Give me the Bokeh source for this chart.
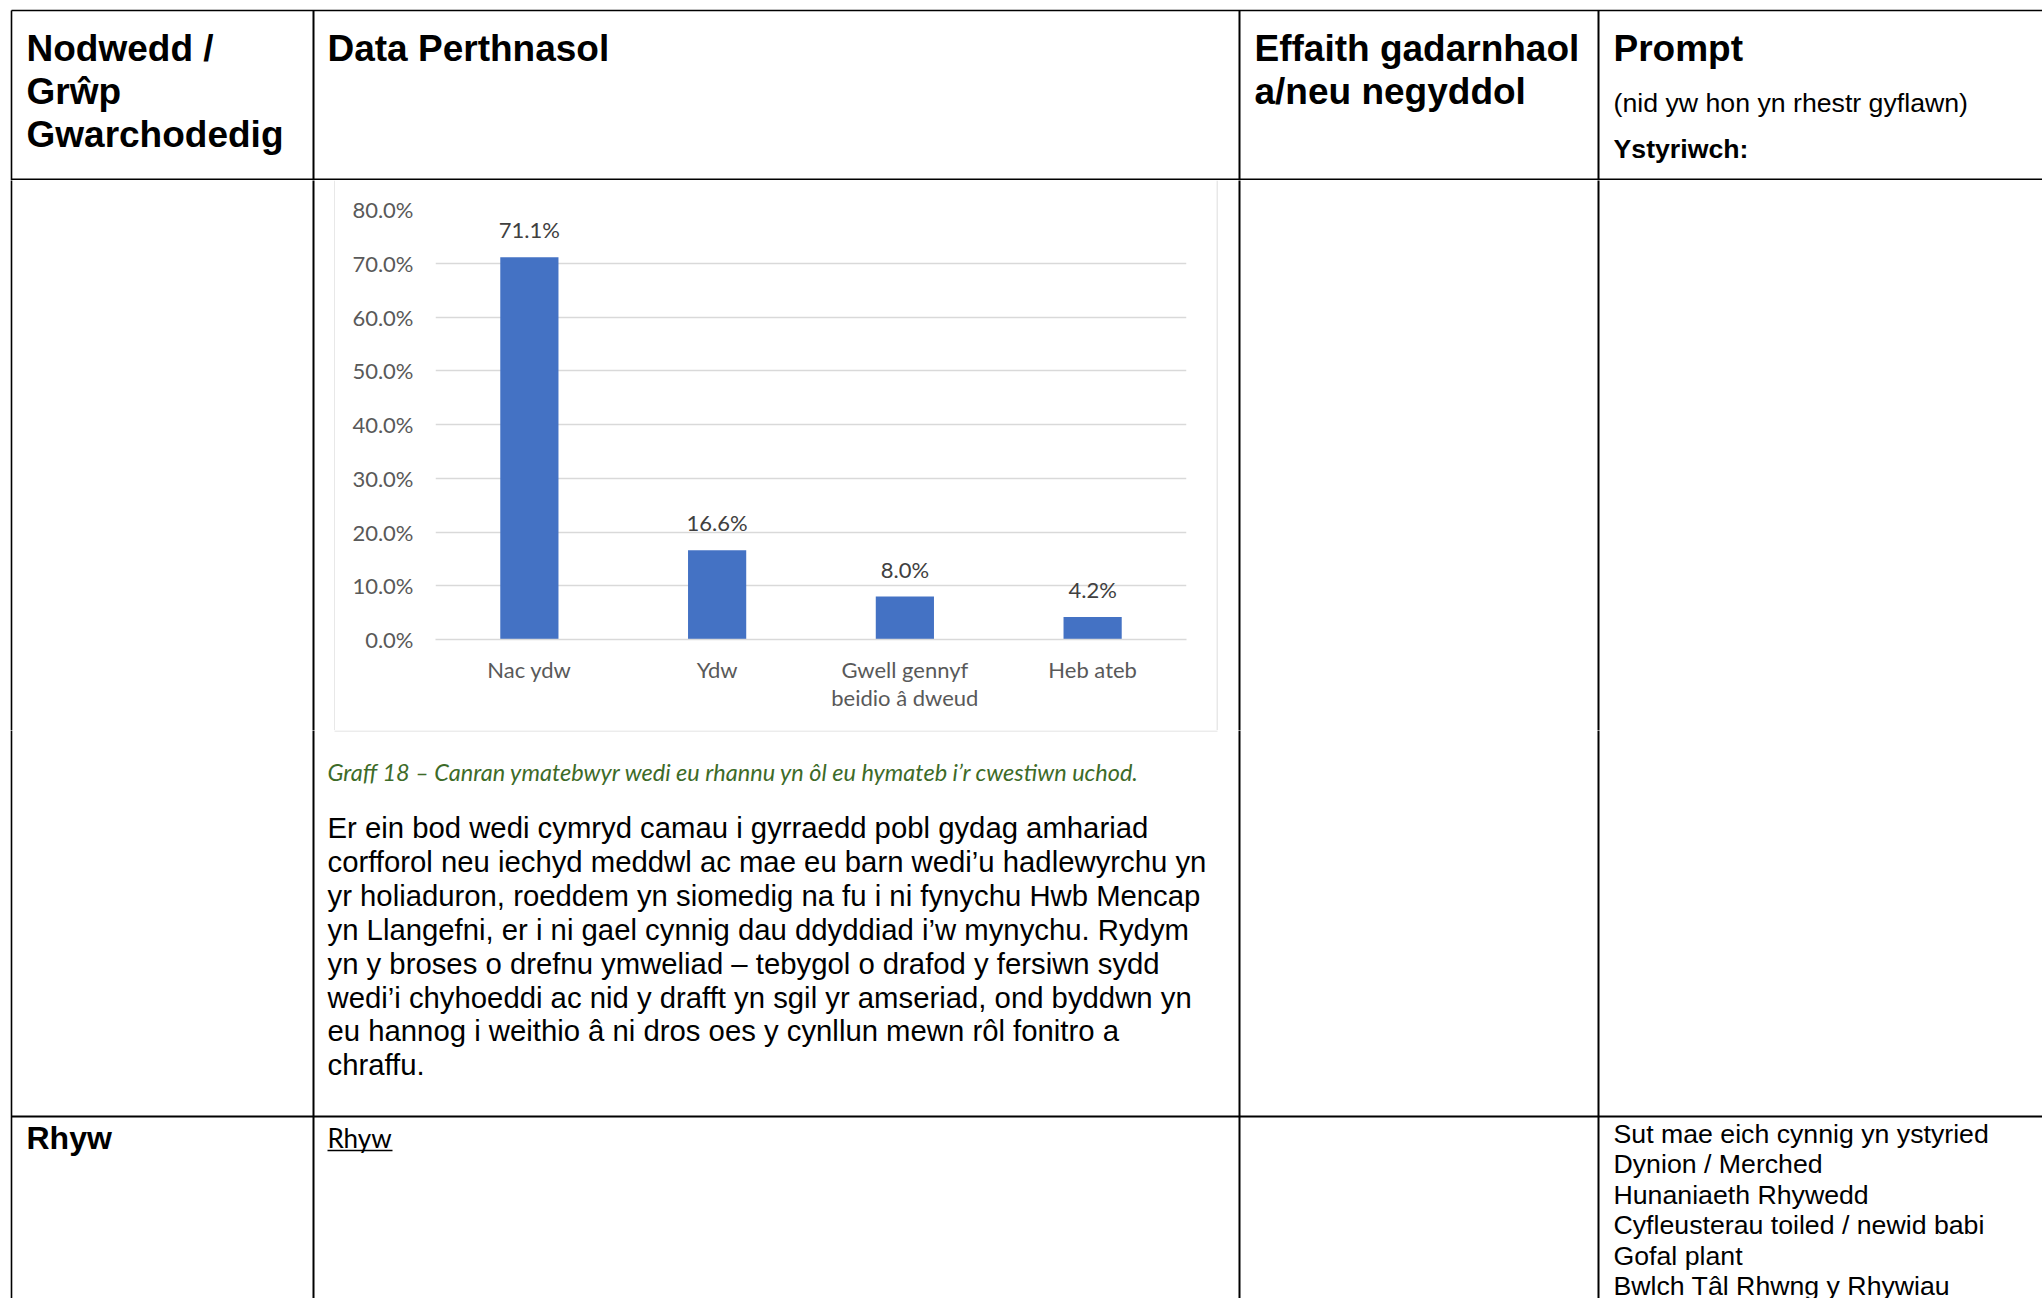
from bokeh.plotting import figure
from bokeh.models import Range1d, FixedTicker, PrintfTickFormatter, ColumnDataSource, LabelSet, FactorRange
from bokeh.layouts import column, row
from bokeh.embed import file_html
from bokeh.resources import INLINE
from bokeh.core.properties import value

# ---------------- data ----------------
categories = ["Nac ydw", "Ydw", "Gwell gennyf\nbeidio â dweud", "Heb ateb"]
percentages = [71.1, 16.6, 8.0, 4.2]
value_labels = ["71.1%", "16.6%", "8.0%", "4.2%"]
y_ticks = [0, 10, 20, 30, 40, 50, 60, 70, 80]

header_col1 = ["Nodwedd /", "Grŵp", "Gwarchodedig"]
header_col2 = ["Data Perthnasol"]
header_col3 = ["Effaith gadarnhaol", "a/neu negyddol"]
header_col4_title = "Prompt"
header_col4_note = "(nid yw hon yn rhestr gyflawn)"
header_col4_sub = "Ystyriwch:"
caption = "Graff 18 – Canran ymatebwyr wedi eu rhannu yn ôl eu hymateb i’r cwestiwn uchod."
paragraph = [
    "Er ein bod wedi cymryd camau i gyrraedd pobl gydag amhariad",
    "corfforol neu iechyd meddwl ac mae eu barn wedi’u hadlewyrchu yn",
    "yr holiaduron, roeddem yn siomedig na fu i ni fynychu Hwb Mencap",
    "yn Llangefni, er i ni gael cynnig dau ddyddiad i’w mynychu. Rydym",
    "yn y broses o drefnu ymweliad – tebygol o drafod y fersiwn sydd",
    "wedi’i chyhoeddi ac nid y drafft yn sgil yr amseriad, ond byddwn yn",
    "eu hannog i weithio â ni dros oes y cynllun mewn rôl fonitro a",
    "chraffu.",
]
row2_label = "Rhyw"
row2_link = "Rhyw"
prompt_items = ["Sut mae eich cynnig yn ystyried", "Dynion / Merched", "Hunaniaeth Rhywedd",
                "Cyfleusterau toiled / newid babi", "Gofal plant", "Bwlch Tâl Rhwng y Rhywiau"]

# ---------------- page geometry ----------------
PAGE_X0, PAGE_Y0 = 0, 0
PAGE_X1, PAGE_Y1 = 2042, 1298
COL_X = [11, 313, 1239, 1598]
TOP_Y = 10
HEAD_Y = 179
ROW_SEP_Y = 1116
BOX_X0, BOX_X1 = 335, 1216
BOX_Y0, BOX_Y1 = 180, 730

ARIAL = value("Liberation Sans")
CAL = value("Lato")


def page_fig(x0, y0, w, h):
    p = figure(width=w, height=h, x_range=Range1d(x0, x0 + w), y_range=Range1d(y0 + h, y0),
               output_backend="svg", toolbar_location=None, x_axis_type=None, y_axis_type=None,
               min_border=0, outline_line_color=None, background_fill_color="white",
               border_fill_color="white", frame_align=False)
    return p


def vlines(p, xs, y0, y1, w=2, color="black"):
    p.segment(x0=xs, y0=[y0] * len(xs), x1=xs, y1=[y1] * len(xs), line_color=color, line_width=w)


def hline(p, y, x0, x1, w=2, color="black"):
    p.segment(x0=[x0], y0=[y], x1=[x1], y1=[y], line_color=color, line_width=w)


# ---------------- top (header row) ----------------
top = page_fig(PAGE_X0, PAGE_Y0, PAGE_X1 - PAGE_X0, BOX_Y0 - PAGE_Y0)
hline(top, TOP_Y, COL_X[0], PAGE_X1 + 5, w=1.6)
vlines(top, [COL_X[0]], TOP_Y, BOX_Y0 + 5, w=1.6)
vlines(top, COL_X[1:], TOP_Y, BOX_Y0 + 5)
hline(top, HEAD_Y, COL_X[0], PAGE_X1 + 5)

hb = dict(text_font=ARIAL, text_font_size="37px", text_font_style="bold",
          text_color="black", text_baseline="middle", text_align="left")
top.text(x=[26] * 3, y=[48, 91, 134], text=header_col1, **hb)
top.text(x=[327], y=[48], text=header_col2, **hb)
top.text(x=[1254] * 2, y=[48, 91], text=header_col3, **hb)
top.text(x=[1613], y=[48], text=[header_col4_title], **hb)
top.text(x=[1613], y=[102], text=[header_col4_note], text_font=ARIAL, text_font_size="26.7px",
         text_color="black", text_baseline="middle")
top.text(x=[1613], y=[148], text=[header_col4_sub], text_font=ARIAL, text_font_size="26.7px",
         text_font_style="bold", text_color="black", text_baseline="middle")

# ---------------- middle: left / chart / right ----------------
mid_h = BOX_Y1 - BOX_Y0
left = page_fig(PAGE_X0, BOX_Y0, BOX_X0 - PAGE_X0, mid_h)
vlines(left, [COL_X[0]], BOX_Y0 - 5, BOX_Y1 + 5, w=1.6)
vlines(left, [COL_X[1]], BOX_Y0 - 5, BOX_Y1 + 5)
vlines(left, [BOX_X0 - 0.5], BOX_Y0, BOX_Y1 + 5, w=1.2, color="#d9d9d9")

right = page_fig(BOX_X1, BOX_Y0, PAGE_X1 - BOX_X1, mid_h)
vlines(right, [BOX_X1 + 0.5], BOX_Y0, BOX_Y1 + 5, w=1.2, color="#d9d9d9")
vlines(right, COL_X[2:], BOX_Y0 - 5, BOX_Y1 + 5)

# chart
src = ColumnDataSource(dict(cat=categories, val=percentages, lbl=value_labels))
chart = figure(width=BOX_X1 - BOX_X0, height=mid_h, x_range=FactorRange(*categories),
               y_range=Range1d(0, 80), output_backend="svg", toolbar_location=None,
               min_border_left=100, min_border_right=30, min_border_top=29, min_border_bottom=91,
               outline_line_color=None, background_fill_color="white", border_fill_color="white",
               frame_align=False)
chart.vbar(x="cat", top="val", width=0.31, source=src, fill_color="#4472C4", line_color=None)
chart.add_layout(LabelSet(x="cat", y="val", text="lbl", source=src, text_align="center",
                          text_baseline="bottom", y_offset=14, text_font=CAL,
                          text_font_size="22px", text_color="#404040"))
chart.xgrid.visible = False
chart.ygrid.ticker = FixedTicker(ticks=y_ticks)
chart.ygrid.grid_line_color = "#d9d9d9"
chart.ygrid.grid_line_width = 1.5
chart.yaxis.ticker = FixedTicker(ticks=y_ticks)
chart.yaxis.formatter = PrintfTickFormatter(format="%.1f%%")
chart.yaxis.axis_line_color = None
chart.yaxis.major_tick_line_color = None
chart.yaxis.minor_tick_line_color = None
chart.yaxis.major_tick_out = 0
chart.yaxis.major_label_standoff = 22
chart.xaxis.axis_line_color = "#d9d9d9"
chart.xaxis.axis_line_width = 1.5
chart.xaxis.major_tick_line_color = None
chart.xaxis.major_tick_out = 0
chart.xaxis.major_label_standoff = 16
chart.xaxis.major_label_text_line_height = 1.05
for ax in (chart.xaxis, chart.yaxis):
    ax.major_label_text_font = "Lato"
    ax.major_label_text_font_size = "22px"
    ax.major_label_text_color = "#595959"

# ---------------- bottom ----------------
bot = page_fig(PAGE_X0, BOX_Y1, PAGE_X1 - PAGE_X0, PAGE_Y1 - BOX_Y1)
vlines(bot, [COL_X[0]], BOX_Y1 - 5, PAGE_Y1 + 5, w=1.6)
vlines(bot, COL_X[1:], BOX_Y1 - 5, PAGE_Y1 + 5)
hline(bot, BOX_Y1 + 0.5, BOX_X0 - 1, BOX_X1 + 1, w=1.2, color="#d9d9d9")
hline(bot, ROW_SEP_Y, COL_X[0], PAGE_X1 + 5)

bot.text(x=[327], y=[771], text=[caption], text_font=CAL, text_font_size="23.5px",
         text_font_style="italic", text_color="#3d6b28", text_baseline="middle")
bot.text(x=[327] * len(paragraph), y=[827 + 33.9 * i for i in range(len(paragraph))], text=paragraph,
         text_font=ARIAL, text_font_size="29.3px", text_color="black", text_baseline="middle")
bot.text(x=[26], y=[1137], text=[row2_label], text_font=ARIAL, text_font_size="32px",
         text_font_style="bold", text_color="black", text_baseline="middle")
bot.text(x=[327], y=[1137], text=[row2_link], text_font=CAL, text_font_size="26px",
         text_color="black", text_baseline="middle")
hline(bot, 1150, 327, 392, w=1.5)
bot.text(x=[1613] * len(prompt_items), y=[1133 + 30.5 * i for i in range(len(prompt_items))],
         text=prompt_items, text_font=ARIAL, text_font_size="26.7px", text_color="black",
         text_baseline="middle")

layout = column(top, row(left, chart, right, spacing=0), bot, spacing=0)
open("out.html", "w").write(file_html(layout, INLINE))
